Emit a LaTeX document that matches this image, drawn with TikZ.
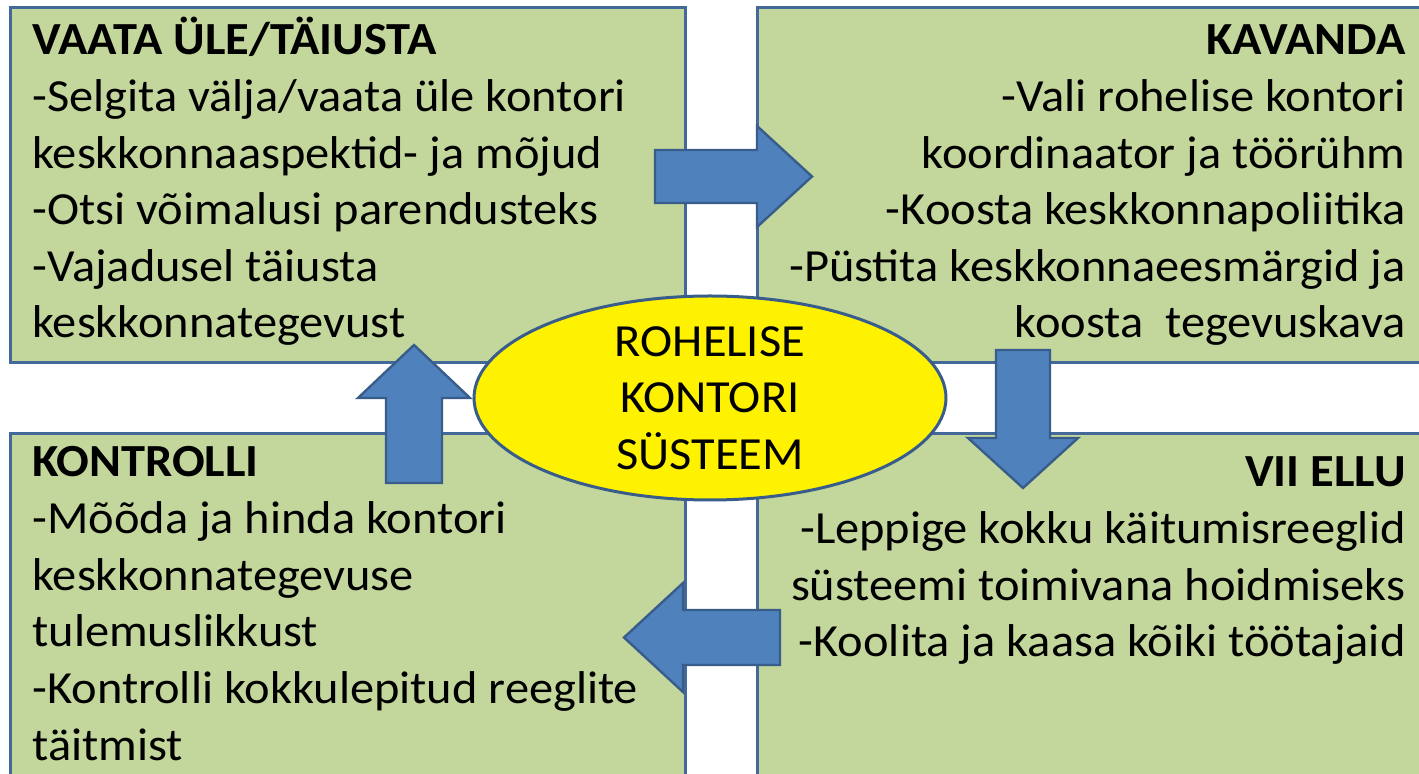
\documentclass[tikz,border=0pt]{standalone}
\usepackage{fontspec}
\setmainfont{Carlito}[FakeStretch=1.053]
\usetikzlibrary{shapes.geometric,fit}
\definecolor{boxfill}{HTML}{C3D69B}
\definecolor{boxedge}{HTML}{43699A}
\definecolor{arrowfill}{HTML}{4F81BD}
\definecolor{arrowedge}{HTML}{385D8A}
\begin{document}
\begin{tikzpicture}[x=0.5pt,y=-0.5pt,
  box/.style={draw=boxedge, line width=1.5pt, fill=boxfill, inner sep=0pt},
  blockarrow/.style={draw=arrowedge, line width=1.2pt, fill=arrowfill, line join=miter},
  ln/.style={inner sep=0pt, font=\fontsize{23}{28.3}\selectfont},
  ttl/.style={inner sep=0pt, font=\fontsize{23}{28.3}\selectfont\bfseries}]
\clip (0,0) rectangle (1419,774);
\fill[white] (0,0) rectangle (1419,774);
% boxes
\node[box, fit={(10,8) (685,363)}] (tl) {};
\node[box, fit={(757,8) (1450,363)}] (tr) {};
\node[box, fit={(10,434) (685,800)}] (bl) {};
\node[box, fit={(757,434) (1450,800)}] (br) {};
% top-left text
\node[ttl, anchor=base west] (tl1) at (32,55) {VAATA ÜLE/TÄIUSTA};
\node[ln, anchor=base west] (tl2) at (32,111.6) {-Selgita välja/vaata üle kontori};
\node[ln, anchor=base west] (tl3) at (32,168.2) {keskkonnaaspektid- ja mõjud};
\node[ln, anchor=base west] (tl4) at (32,224.8) {-Otsi võimalusi parendusteks};
\node[ln, anchor=base west] (tl5) at (32,281.4) {-Vajadusel täiusta};
\node[ln, anchor=base west] (tl6) at (32,338) {keskkonnategevust};
% top-right text
\node[ttl, anchor=base east] (tr1) at (1406,55) {KAVANDA};
\node[ln, anchor=base east] (tr2) at (1406,111.6) {-Vali rohelise kontori};
\node[ln, anchor=base east] (tr3) at (1406,168.2) {koordinaator ja töörühm};
\node[ln, anchor=base east] (tr4) at (1406,224.8) {-Koosta keskkonnapoliitika};
\node[ln, anchor=base east] (tr5) at (1406,281.4) {-Püstita keskkonnaeesmärgid ja};
\node[ln, anchor=base east] (tr6) at (1406,338) {koosta~~tegevuskava};
% bottom-left text
\node[ttl, anchor=base west] (bl1) at (32,477) {KONTROLLI};
\node[ln, anchor=base west] (bl2) at (32,533.6) {-Mõõda ja hinda kontori};
\node[ln, anchor=base west] (bl3) at (32,590.2) {keskkonnategevuse};
\node[ln, anchor=base west] (bl4) at (32,646.8) {tulemuslikkust};
\node[ln, anchor=base west] (bl5) at (32,703.4) {-Kontrolli kokkulepitud reeglite};
\node[ln, anchor=base west] (bl6) at (32,760) {täitmist};
% bottom-right text
\node[ttl, anchor=base east] (br1) at (1406,487) {VII ELLU};
\node[ln, anchor=base east] (br2) at (1406,543.6) {-Leppige kokku käitumisreeglid};
\node[ln, anchor=base east] (br3) at (1406,600.2) {süsteemi toimivana hoidmiseks};
\node[ln, anchor=base east] (br4) at (1406,656.8) {-Koolita ja kaasa kõiki töötajaid};
% block arrows
\draw[blockarrow] (655,150) -- (757,150) -- (757,126) -- (812,176.5) -- (757,227) -- (757,203) -- (655,203) -- cycle;
\draw[blockarrow] (996,350) -- (1050,350) -- (1050,438) -- (1078,438) -- (1023,488) -- (968,438) -- (996,438) -- cycle;
\draw[blockarrow] (780,610) -- (780,665) -- (683,665) -- (683,692) -- (624,637.5) -- (683,583) -- (683,610) -- cycle;
\draw[blockarrow] (386,483) -- (386,398) -- (358,398) -- (414,345) -- (470,398) -- (442,398) -- (442,483) -- cycle;
% centre ellipse
\node[ellipse, draw=arrowedge, line width=1.5pt, fill=yellow, minimum width=236pt, minimum height=102pt, inner sep=0pt, align=center, font=\fontsize{23}{28.3}\selectfont] (c) at (710,398) {ROHELISE\\KONTORI\\SÜSTEEM};
\end{tikzpicture}
\end{document}
